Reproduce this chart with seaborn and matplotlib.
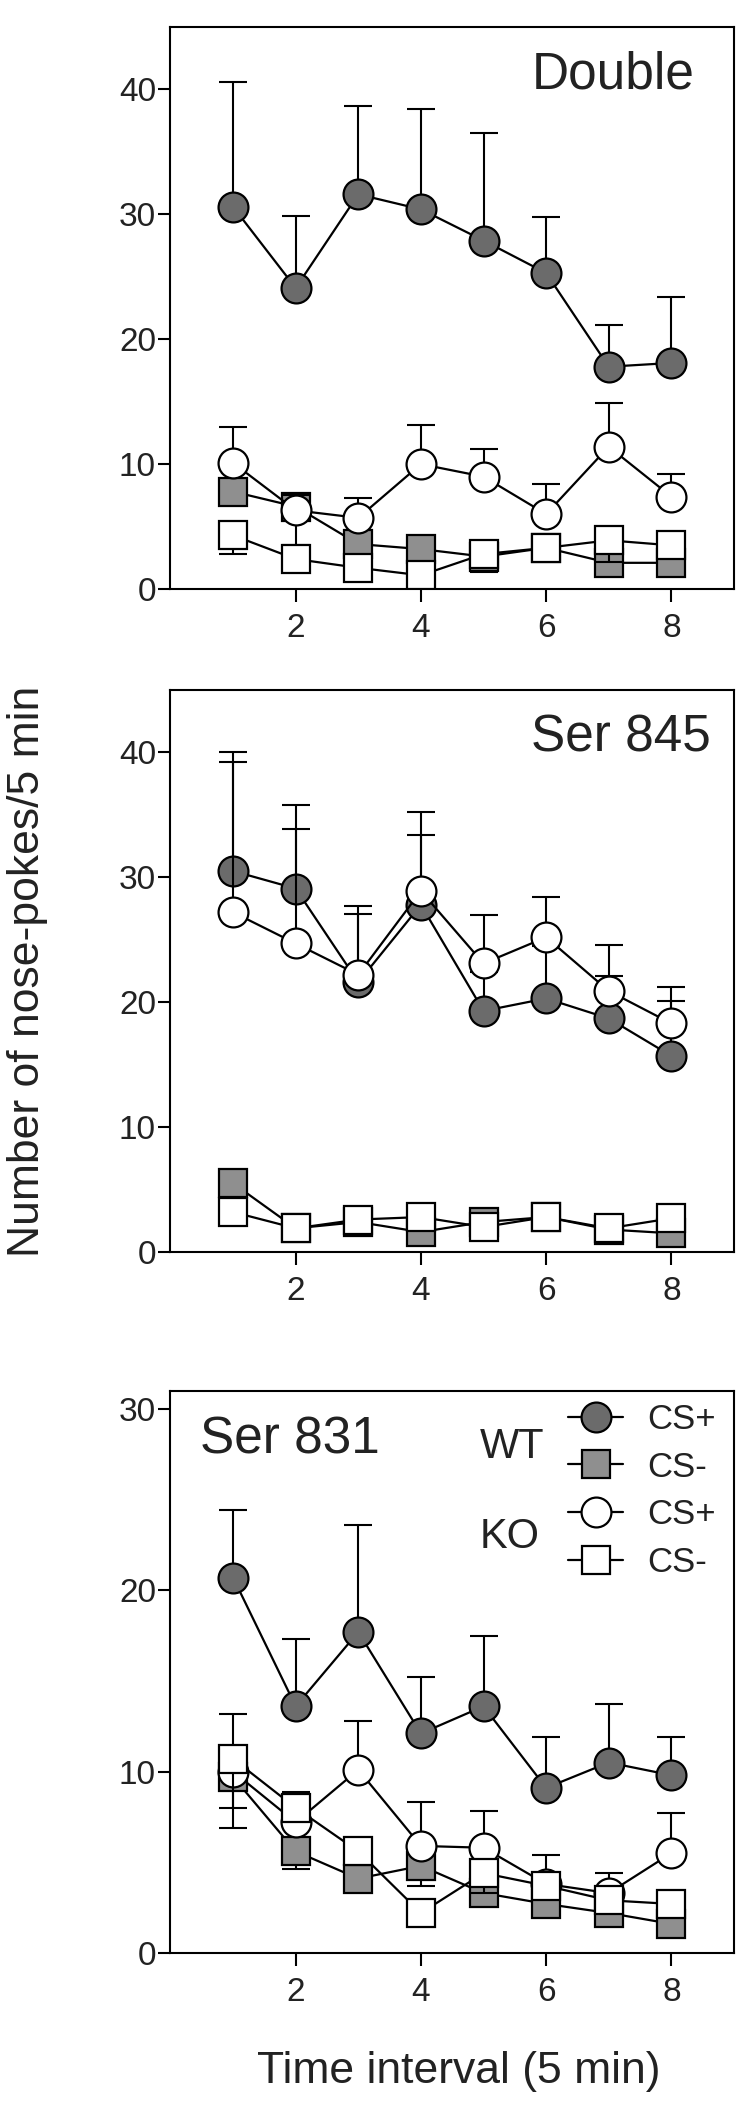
import numpy as np
import pandas as pd
import matplotlib
matplotlib.use('Agg')
import matplotlib.pyplot as plt
from matplotlib.lines import Line2D
import seaborn as sns

# time intervals (5 min bins)
intervals = [1, 2, 3, 4, 5, 6, 7, 8]

# ---- Double ----
dbl_wt_plus = [30.6, 24.1, 31.6, 30.4, 27.9, 25.3, 17.8, 18.1]
dbl_wt_plus_up = [10.0, 5.8, 7.1, 8.0, 8.6, 4.5, 3.3, 5.3]
dbl_wt_plus_dn = [0, 0, 0, 0, 0, 0, 0, 0]
dbl_wt_minus = [7.8, 6.6, 3.6, 3.2, 2.6, 3.3, 2.1, 2.1]
dbl_wt_minus_up = [0.7, 0.9, 0, 0, 0, 0, 0, 0]
dbl_wt_minus_dn = [0, 0, 0, 0, 1.2, 0, 0, 0]
dbl_ko_plus = [10.1, 6.3, 5.7, 10.0, 9.0, 6.0, 11.4, 7.4]
dbl_ko_plus_up = [2.9, 1.2, 1.6, 3.1, 2.2, 2.4, 3.5, 1.8]
dbl_ko_plus_dn = [0, 2.8, 0, 0, 0, 0, 0, 0]
dbl_ko_minus = [4.3, 2.4, 1.7, 1.1, 2.8, 3.3, 3.9, 3.5]
dbl_ko_minus_up = [0, 0, 0, 0, 0, 0, 0, 0]
dbl_ko_minus_dn = [1.5, 0, 0, 0, 0, 0, 1.7, 0]

# ---- Ser 845 ----
s845_wt_plus = [30.5, 29.1, 21.6, 27.8, 19.3, 20.3, 18.7, 15.7]
s845_wt_plus_up = [9.5, 6.7, 6.1, 7.4, 3.1, 4.2, 3.4, 4.4]
s845_wt_plus_dn = [0, 0, 0, 0, 0, 0, 0, 0]
s845_wt_minus = [5.5, 1.9, 2.4, 1.6, 2.4, 2.8, 1.8, 1.5]
s845_wt_minus_up = [0, 0, 0, 0, 0, 0, 0, 0]
s845_wt_minus_dn = [0, 0, 0, 0, 0, 0, 0, 0]
s845_ko_plus = [27.2, 24.7, 22.2, 28.9, 23.1, 25.2, 20.9, 18.3]
s845_ko_plus_up = [12.0, 9.2, 4.9, 4.5, 3.9, 3.2, 3.7, 2.9]
s845_ko_plus_dn = [0, 0, 0, 0, 0, 0, 0, 0]
s845_ko_minus = [3.2, 1.9, 2.6, 2.8, 2.0, 2.8, 1.9, 2.7]
s845_ko_minus_up = [0, 0, 0, 0, 0, 0, 0, 0]
s845_ko_minus_dn = [0, 0, 0, 0, 0, 0, 0, 0]

# ---- Ser 831 ----
s831_wt_plus = [20.7, 13.6, 17.7, 12.1, 13.6, 9.1, 10.5, 9.8]
s831_wt_plus_up = [3.7, 3.7, 5.9, 3.1, 3.9, 2.8, 3.2, 2.1]
s831_wt_plus_dn = [0, 0, 0, 0, 0, 0, 0, 0]
s831_wt_minus = [9.7, 5.6, 4.1, 4.8, 3.3, 2.7, 2.2, 1.6]
s831_wt_minus_up = [0, 0, 0, 0, 0, 0, 0, 0]
s831_wt_minus_dn = [2.8, 1.0, 0, 1.1, 0, 0, 0, 0]
s831_ko_plus = [10.0, 7.2, 10.1, 5.9, 5.8, 3.8, 3.3, 5.5]
s831_ko_plus_up = [3.2, 1.7, 2.7, 2.4, 2.0, 1.6, 1.1, 2.2]
s831_ko_plus_dn = [0, 0, 0, 0, 0, 0, 0, 0]
s831_ko_minus = [10.7, 8.0, 5.6, 2.2, 4.4, 3.7, 2.9, 2.7]
s831_ko_minus_up = [0, 0, 0, 0, 0, 0, 0, 0]
s831_ko_minus_dn = [2.7, 0, 0, 0, 1.1, 0, 0.7, 0]

panel_titles = ['Double', 'Ser 845', 'Ser 831']
legend_labels = ['CS+', 'CS-', 'CS+', 'CS-']

WT_PLUS_COLOR = '#6b6b6b'
WT_MINUS_COLOR = '#8f8f8f'
TEXT_COLOR = '#222222'

sns.set_style('ticks')
plt.rcParams['font.family'] = ['Liberation Sans', 'DejaVu Sans']
plt.rcParams['text.color'] = TEXT_COLOR
plt.rcParams['xtick.color'] = 'black'
plt.rcParams['ytick.color'] = 'black'
plt.rcParams['xtick.labelcolor'] = TEXT_COLOR
plt.rcParams['ytick.labelcolor'] = TEXT_COLOR


def draw_series(ax, y, up, dn, face, marker, size, z):
    # error bars first, then the line + markers on top
    ax.errorbar(intervals, y, yerr=[dn, up], fmt='none', ecolor='black',
                elinewidth=1.5, capsize=10, capthick=1.5, zorder=z)
    d = pd.DataFrame({'interval': intervals, 'count': y})
    sns.lineplot(data=d, x='interval', y='count', ax=ax, color='black',
                 linewidth=1.6, marker=marker, markersize=size,
                 markerfacecolor=face, markeredgecolor='black',
                 markeredgewidth=1.6, zorder=z + 0.5)


panels = [
    [(dbl_wt_plus, dbl_wt_plus_up, dbl_wt_plus_dn),
     (dbl_wt_minus, dbl_wt_minus_up, dbl_wt_minus_dn),
     (dbl_ko_plus, dbl_ko_plus_up, dbl_ko_plus_dn),
     (dbl_ko_minus, dbl_ko_minus_up, dbl_ko_minus_dn)],
    [(s845_wt_plus, s845_wt_plus_up, s845_wt_plus_dn),
     (s845_wt_minus, s845_wt_minus_up, s845_wt_minus_dn),
     (s845_ko_plus, s845_ko_plus_up, s845_ko_plus_dn),
     (s845_ko_minus, s845_ko_minus_up, s845_ko_minus_dn)],
    [(s831_wt_plus, s831_wt_plus_up, s831_wt_plus_dn),
     (s831_wt_minus, s831_wt_minus_up, s831_wt_minus_dn),
     (s831_ko_plus, s831_ko_plus_up, s831_ko_plus_dn),
     (s831_ko_minus, s831_ko_minus_up, s831_ko_minus_dn)],
]

styles = [(WT_PLUS_COLOR, 'o', 21.5), (WT_MINUS_COLOR, 's', 20),
          ('white', 'o', 21.5), ('white', 's', 20)]

fig = plt.figure(figsize=(7.5, 21.06), dpi=100)
bottoms = [0.7203, 0.4055, 0.0727]
ylims = [45, 45, 31]
yticks = [[0, 10, 20, 30, 40], [0, 10, 20, 30, 40], [0, 10, 20, 30]]

for i in range(3):
    ax = fig.add_axes([0.2273, bottoms[i], 0.7513, 0.2669])
    for k, (y, up, dn) in enumerate(panels[i]):
        face, mk, ms = styles[k]
        draw_series(ax, y, up, dn, face, mk, ms, 2 + k)
    ax.set_xlim(0, 9)
    ax.set_ylim(0, ylims[i])
    ax.set_xticks([2, 4, 6, 8])
    ax.set_yticks(yticks[i])
    ax.set_xlabel('')
    ax.set_ylabel('')
    for sp in ax.spines.values():
        sp.set_visible(True)
        sp.set_linewidth(1.5)
        sp.set_color('black')
    ax.tick_params(axis='both', direction='out', length=9, width=1.5, labelsize=24)
    ax.tick_params(axis='y', pad=1.5)
    ax.tick_params(axis='x', pad=8)

    if i < 2:
        ax.text(0.6406, 0.89, panel_titles[i], transform=ax.transAxes,
                fontsize=37, ha='left', va='baseline')
    else:
        ax.text(0.0524, 0.888, panel_titles[i], transform=ax.transAxes,
                fontsize=37, ha='left', va='baseline')
        ax.text(0.549, 0.881, 'WT', transform=ax.transAxes,
                fontsize=30, ha='left', va='baseline')
        ax.text(0.549, 0.7206, 'KO', transform=ax.transAxes,
                fontsize=30, ha='left', va='baseline')
        handles = [Line2D([], [], color='black', lw=1.6, marker=mk, markersize=ms,
                          markerfacecolor=face, markeredgecolor='black',
                          markeredgewidth=1.6) for face, mk, ms in styles]
        ax.legend(handles, legend_labels, loc='center left',
                  bbox_to_anchor=(0.705, 0.822), frameon=False, fontsize=25,
                  borderpad=0, borderaxespad=0, handlelength=1.6,
                  handletextpad=0.7, labelspacing=0.42)

fig.text(0.037, 0.5387, 'Number of nose-pokes/5 min', rotation=90,
         ha='center', va='center', fontsize=32)
fig.text(0.612, 0.0109, 'Time interval (5 min)', ha='center', va='baseline',
         fontsize=32)

fig.savefig('out.png', dpi=100)
